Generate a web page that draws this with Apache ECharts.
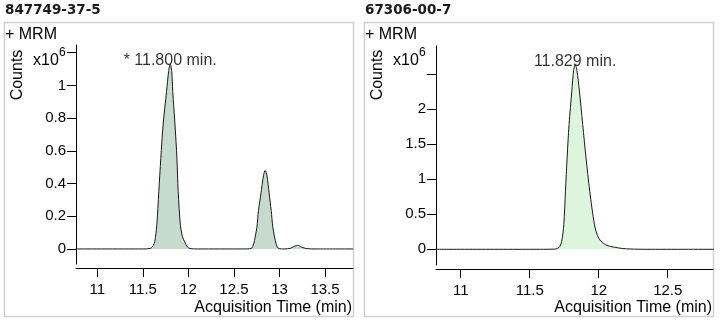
<!DOCTYPE html>
<html>
<head>
<meta charset="utf-8">
<script src="https://cdn.jsdelivr.net/npm/echarts@6/dist/echarts.min.js"></script>
<style>
  html, body { margin: 0; padding: 0; background: #fff; }
  #chart { width: 721px; height: 322px; }
</style>
</head>
<body>
<div id="chart"></div>
<script>
// Compound titles
const leftTitle = '847749-37-5';
const rightTitle = '67306-00-7';

// Left chromatogram: acquisition time (min) and counts (x10^6)
const leftTime = [
  10.76, 11.50, 11.58, 11.60, 11.615, 11.631, 11.653, 11.675, 11.697, 11.722,
  11.760, 11.783, 11.800, 11.817, 11.828, 11.853, 11.874, 11.888, 11.912, 11.935,
  11.960, 11.985, 12.015, 12.10, 12.60, 12.689, 12.71, 12.725, 12.752, 12.769,
  12.796, 12.825, 12.843, 12.862, 12.887, 12.909, 12.927, 12.954, 12.975, 12.995,
  13.05, 13.12, 13.17, 13.20, 13.24, 13.30, 13.40, 13.81
];
const leftCounts = [
  0, 0, 0.003, 0.010, 0.022, 0.045, 0.145, 0.350, 0.554, 0.758,
  0.963, 1.086, 1.131, 1.086, 0.963, 0.758, 0.554, 0.350, 0.145, 0.075,
  0.043, 0.015, 0.003, 0, 0, 0.003, 0.020, 0.051, 0.133, 0.235,
  0.337, 0.450, 0.480, 0.450, 0.337, 0.235, 0.133, 0.051, 0.012, 0.002,
  0, 0.004, 0.018, 0.022, 0.012, 0.002, 0, 0
];

// Right chromatogram: acquisition time (min) and counts (x10^6)
const rightTime = [
  10.81, 11.60, 11.68, 11.70, 11.718, 11.732, 11.747, 11.759, 11.771, 11.785,
  11.805, 11.818, 11.829, 11.842, 11.860, 11.884, 11.908, 11.935, 11.969, 11.990,
  12.017, 12.060, 12.114, 12.170, 12.230, 12.350, 12.84
];
const rightCounts = [
  0, 0, 0.003, 0.010, 0.040, 0.114, 0.351, 0.829, 1.304, 1.780,
  2.257, 2.550, 2.637, 2.550, 2.257, 1.780, 1.304, 0.829, 0.351, 0.200,
  0.114, 0.055, 0.030, 0.012, 0.004, 0, 0
];

// Axis ticks and labels
const leftXTicks = [11, 11.5, 12, 12.5, 13, 13.5];
const rightXTicks = [11, 11.5, 12, 12.5];
const leftYTicks = [0, 0.2, 0.4, 0.6, 0.8, 1, 1.2];
const leftYLabels = [0, 0.2, 0.4, 0.6, 0.8, 1];
const rightYTicks = [0, 0.5, 1, 1.5, 2, 2.5];
const rightYLabels = [0, 0.5, 1, 1.5, 2];

const xAxisTitle = 'Acquisition Time (min)';
const yAxisTitle = 'Counts';
const scanLabel = '+ MRM';

const FONT = '"Liberation Sans", Arial, sans-serif';

function pairs(t, v) { return t.map((x, i) => [x, v[i]]); }
function apex(t, v) {
  let k = 0;
  v.forEach((y, i) => { if (y > v[k]) k = i; });
  return [t[k], v[k]];
}

const leftApex = apex(leftTime, leftCounts);
const rightApex = apex(rightTime, rightCounts);

function xAxisFor(gridIndex, min, max, ticks) {
  return {
    type: 'value', gridIndex, min, max, offset: 4,
    axisLine: { show: true, onZero: false, lineStyle: { color: '#000', width: 1 } },
    axisTick: { show: true, length: 9, customValues: ticks, lineStyle: { color: '#000' } },
    axisLabel: { customValues: ticks, color: '#000', fontSize: 15, fontFamily: FONT, margin: 14 },
    splitLine: { show: false }
  };
}
function yAxisFor(gridIndex, min, max, ticks, labels) {
  return {
    type: 'value', gridIndex, min, max,
    axisLine: { show: true, lineStyle: { color: '#000', width: 1 } },
    axisTick: { show: true, length: 9, customValues: ticks, lineStyle: { color: '#000' } },
    axisLabel: { customValues: labels, color: '#000', fontSize: 15, fontFamily: FONT, margin: 10 },
    splitLine: { show: false }
  };
}
function trace(idx, t, v, fill) {
  return {
    type: 'line', xAxisIndex: idx, yAxisIndex: idx,
    data: pairs(t, v), showSymbol: false, smooth: 0.3,
    lineStyle: { color: '#1a1a1a', width: 1 },
    areaStyle: { color: fill, opacity: 1 },
    silent: true, animation: false
  };
}
function peakLabel(idx, p, prefix) {
  return {
    type: 'scatter', xAxisIndex: idx, yAxisIndex: idx,
    data: [p], symbolSize: 0, silent: true, animation: false,
    label: {
      show: true, position: 'inside', offset: [0, -3],
      color: '#000', fontSize: 16, fontFamily: FONT,
      formatter: () => prefix + p[0].toFixed(3) + ' min.'
    }
  };
}
function panelDecor(dx, title) {
  const txt = (x, y, text, extra) => ({
    type: 'text', x, y,
    style: Object.assign({
      text, fill: '#000', fontSize: 16, fontFamily: FONT, verticalAlign: 'middle'
    }, extra || {})
  });
  return [
    { type: 'rect', shape: { x: dx + 4.5, y: 22.5, width: 349, height: 294 },
      style: { fill: 'none', stroke: '#d0d0d0', lineWidth: 1.5 } },
    txt(dx + 5, 10, title, {
      fontSize: 13.5, fontWeight: 'bold', fontFamily: '"DejaVu Sans", sans-serif', fill: '#1a1a1a'
    }),
    txt(dx + 5, 35, scanLabel),
    { type: 'text', x: dx + 18, y: 75, rotation: Math.PI / 2,
      style: { text: yAxisTitle, fill: '#000', fontSize: 16, fontFamily: FONT, align: 'center', verticalAlign: 'middle' } },
    txt(dx + 33, 61, 'x10'),
    txt(dx + 59, 53, '6', { fontSize: 12 }),
    txt(dx + 352, 308, xAxisTitle, { align: 'right' })
  ];
}

const chart = echarts.init(document.getElementById('chart'), null, { renderer: 'canvas' });
chart.setOption({
  animation: false,
  backgroundColor: '#fff',
  grid: [
    { left: 76, top: 45, width: 277, height: 219 },
    { left: 436, top: 46, width: 277, height: 219 }
  ],
  xAxis: [
    xAxisFor(0, 10.766, 13.807, leftXTicks),
    xAxisFor(1, 10.821, 12.828, rightXTicks)
  ],
  yAxis: [
    yAxisFor(0, -0.092, 1.247, leftYTicks, leftYLabels),
    yAxisFor(1, -0.224, 2.90, rightYTicks, rightYLabels)
  ],
  series: [
    trace(0, leftTime, leftCounts, '#c6dbcd'),
    trace(1, rightTime, rightCounts, '#ddf5dd'),
    peakLabel(0, leftApex, '* '),
    peakLabel(1, rightApex, '')
  ],
  graphic: panelDecor(0, leftTitle).concat(panelDecor(360, rightTitle))
});
</script>
</body>
</html>
